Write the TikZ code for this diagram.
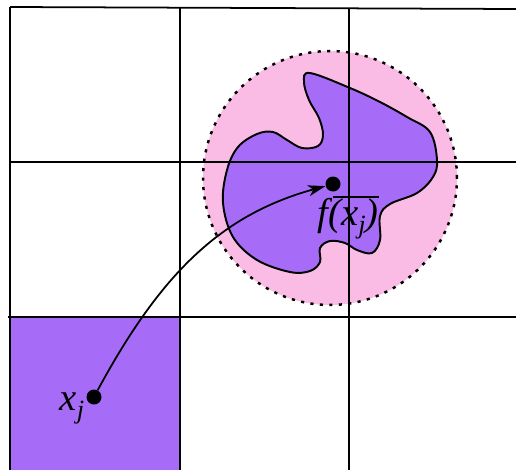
\documentclass[tikz,border=0pt]{standalone}
\usepackage{fontspec}
\setmainfont{Liberation Serif}
\usetikzlibrary{arrows.meta}
\definecolor{cellPurple}{RGB}{166,108,248}
\definecolor{ballPink}{RGB}{250,188,228}

\begin{document}
\begin{tikzpicture}[x=0.02cm,y=-0.02cm,
      grid/.style={line width=1pt},
      dot/.style={circle,fill=black,inner sep=0pt,minimum size=0.3cm},
      lbl/.style={font=\fontsize{22}{26}\selectfont\itshape},
      ball/.style={circle,fill=ballPink,draw=black,dash pattern=on 1.8pt off 3.6pt,line width=1.4pt,minimum size=5.08cm,inner sep=0pt},
      arr/.style={-{Stealth[length=3.5mm,width=2.2mm,inset=1mm]},line width=1pt}]
    \useasboundingbox (0,0) rectangle (516,470);
    \fill[cellPurple] (10,317) rectangle (179,470);
    \node[ball] (nbhd) at (330,178) {};
    \draw[line width=1.1pt,fill=cellPurple] plot[smooth cycle,tension=0.6] coordinates {
      (310,73) (350,88) (380,102) (407,117) (430,132) (437,160) (433,177) (417,193) (390,204)
      (380,216) (380,240) (372,253) (357,250) (345,243) (330,241) (320,248) (320,262)
      (310,271) (290,272) (257,260) (233,237) (223,203) (227,170) (238,147) (257,134)
      (273,132) (287,140) (302,148) (318,146) (323,135) (319,118) (309,100) (304,82)};
    \draw[grid] (10,7) -- (516,9);
    \draw[grid] (10,162) -- (516,162);
    \draw[grid] (8,317) -- (516,317);
    \draw[grid] (10,7) -- (10,470);
    \draw[grid] (180,8) -- (180,470);
    \draw[grid] (349,8) -- (349,470);
    \node[dot] (xj) at (94,397) {};
    \node[dot] (fxj) at (333,184) {};
    \node[lbl] (xjlabel) at (72,408) {x\raisebox{-0.45ex}{\fontsize{15}{18}\selectfont j}};
    \node[lbl,inner sep=0pt] (fxjlabel) at (348,219) {f(x\raisebox{-0.45ex}{\fontsize{15}{18}\selectfont j})};
    \draw[line width=1pt] ([xshift=9]fxjlabel.north west) ++(0,-1) coordinate (barL) -- (barL -| fxjlabel.north east);
    \draw[arr] (xj) .. controls (160,275) and (220,215) .. (fxj);
  \end{tikzpicture}
\end{document}
